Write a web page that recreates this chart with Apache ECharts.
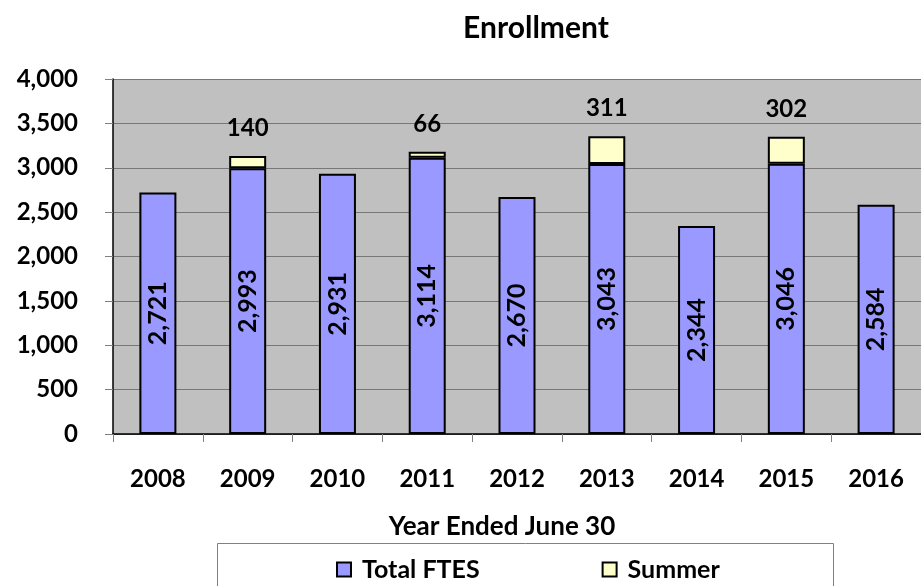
<!DOCTYPE html>
<html><head><meta charset="utf-8">
<script src="https://cdn.jsdelivr.net/npm/echarts@6/dist/echarts.min.js"></script>
<style>html,body{margin:0;padding:0;background:#fff}#c{width:921px;height:586px}</style>
</head><body><div id="c"></div>
<script>
const categories = ['2008','2009','2010','2011','2012','2013','2014','2015','2016'];
const totalFTES = [2721, 2993, 2931, 3114, 2670, 3043, 2344, 3046, 2584];
const summer = [null, 140, null, 66, null, 311, null, 302, null];
const yTicks = [0, 500, 1000, 1500, 2000, 2500, 3000, 3500, 4000];

const FONT = 'Lato, "Open Sans", sans-serif';
const W = 'bold';
const chart = echarts.init(document.getElementById('c'));
chart.setOption({
  animation: false,
  backgroundColor: '#fff',
  title: {
    text: 'Enrollment', left: 531, top: 8, textAlign: 'center',
    textStyle: {fontFamily: FONT, fontWeight: W, fontSize: 30, color: '#000'}
  },
  grid: {left: 113, top: 79, right: -11, bottom: 152, show: true, backgroundColor: '#C0C0C0', borderWidth: 0},
  legend: {
    data: ['Total FTES', 'Summer'], left: 331, top: 552, itemGap: 122,
    icon: 'rect', itemWidth: 14, itemHeight: 14,
    textStyle: {fontFamily: FONT, fontWeight: W, fontSize: 25, color: '#000', padding: [0, 0, 0, 6]}
  },
  graphic: [{
    type: 'rect', shape: {x: 217.5, y: 543.5, width: 616, height: 50},
    style: {fill: 'none', stroke: '#808080', lineWidth: 1}, z: -1
  }],
  xAxis: {
    type: 'category', data: categories,
    name: 'Year Ended June 30', nameLocation: 'middle', nameGap: 80,
    nameTextStyle: {fontFamily: FONT, fontWeight: W, fontSize: 26, color: '#000', padding: [0, 0, 0, -30]},
    axisLine: {lineStyle: {color: '#000', width: 1.5}},
    axisTick: {show: true, length: 8, lineStyle: {color: '#808080', width: 1}},
    axisLabel: {fontFamily: FONT, fontWeight: W, fontSize: 24, color: '#000', margin: 33}
  },
  yAxis: {
    type: 'value', min: 0, max: 4000, interval: 500,
    axisLine: {show: true, lineStyle: {color: '#000', width: 1.5}},
    axisTick: {show: true, length: 8, lineStyle: {color: '#808080'}},
    splitLine: {lineStyle: {color: '#777', width: 1}},
    axisLabel: {fontFamily: FONT, fontWeight: W, fontSize: 24, color: '#000', margin: 35,
      formatter: v => yTicks.includes(v) ? v.toLocaleString('en-US') : ''}
  },
  series: [{
    name: 'Total FTES', type: 'bar', stack: 't', data: totalFTES, barWidth: 37,
    itemStyle: {color: '#9999FF', borderColor: '#000', borderWidth: 2},
    label: {show: true, position: 'inside', rotate: 90,
      fontFamily: FONT, fontWeight: W, fontSize: 25, color: '#000',
      formatter: p => p.value.toLocaleString('en-US')}
  }, {
    name: 'Summer', type: 'bar', stack: 't', data: summer, barWidth: 37,
    itemStyle: {color: '#FFFFCC', borderColor: '#000', borderWidth: 2},
    label: {show: true, position: 'top', distance: 16,
      fontFamily: FONT, fontWeight: W, fontSize: 24, color: '#000',
      formatter: p => p.value == null ? '' : p.value.toLocaleString('en-US')}
  }]
});
</script></body></html>
